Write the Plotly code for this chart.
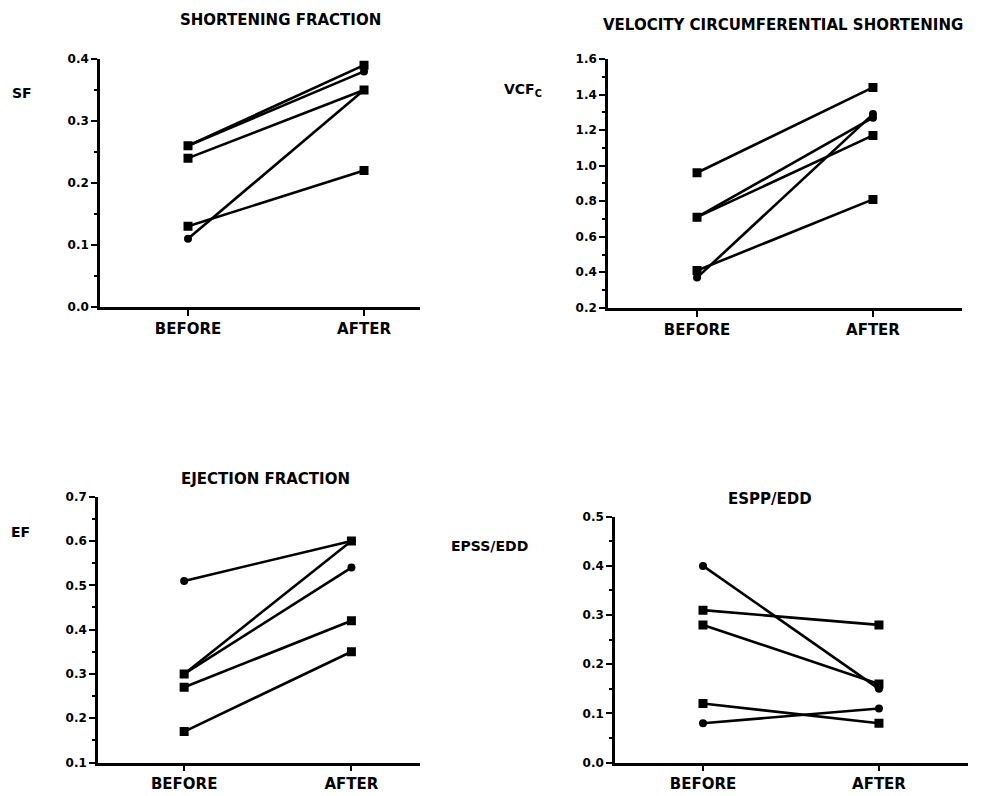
import plotly.graph_objects as go

W, H = 986, 796

# ---- data ----
categories = ["BEFORE", "AFTER"]
x_pos = [0, 1]

sf_square = [[0.26, 0.39], [0.24, 0.35], [0.13, 0.22]]
sf_circle = [[0.26, 0.38], [0.11, 0.35]]

vcf_square = [[0.96, 1.44], [0.71, 1.17], [0.41, 0.81]]
vcf_circle = [[0.71, 1.27], [0.37, 1.29]]

ef_square = [[0.30, 0.60], [0.27, 0.42], [0.17, 0.35]]
ef_circle = [[0.51, 0.60], [0.30, 0.54]]

epss_square = [[0.31, 0.28], [0.28, 0.16], [0.12, 0.08]]
epss_circle = [[0.40, 0.15], [0.08, 0.11]]

titles = ["SHORTENING FRACTION", "VELOCITY CIRCUMFERENTIAL SHORTENING",
          "EJECTION FRACTION", "ESPP/EDD"]
ylabels = ["SF", "VCF<sub>C</sub>", "EF", "EPSS/EDD"]


def Y(y):
    # compensate the vertical offset/scale observed in the rendered page
    return y / 0.983 - 7.1


# ---- layout geometry (pixels) ----
panels = [
    dict(px=(100, 420), py=(59, 307), xr=[-0.5, 1.318], yr=[0.0, 0.4], dt=0.1, mt=0.05,
         data=(sf_square, sf_circle)),
    dict(px=(608, 962), py=(59, 308), xr=[-0.506, 1.506], yr=[0.2, 1.6], dt=0.2, mt=0.1,
         data=(vcf_square, vcf_circle)),
    dict(px=(98, 420), py=(497, 763), xr=[-0.515, 1.41], yr=[0.1, 0.7], dt=0.1, mt=0.05,
         data=(ef_square, ef_circle)),
    dict(px=(615, 968), py=(517, 763), xr=[-0.5, 1.506], yr=[0.0, 0.5], dt=0.1, mt=0.05,
         data=(epss_square, epss_circle)),
]

FONT = "DejaVu Sans"
fig = go.Figure()
layout = {}
for i, p in enumerate(panels):
    n = "" if i == 0 else str(i + 1)
    xa, ya = "x" + n, "y" + n
    for sym, series in zip(["square", "circle"], p["data"]):
        for s in series:
            fig.add_trace(go.Scatter(
                x=x_pos, y=s, xaxis=xa, yaxis=ya, mode="lines+markers",
                line=dict(color="black", width=2.6),
                marker=dict(symbol=sym, size=9 if sym == "square" else 8, color="black"),
                showlegend=False, hoverinfo="skip"))
    xd = [p["px"][0] / W, p["px"][1] / W]
    yd = [1 - Y(p["py"][1]) / H, 1 - Y(p["py"][0]) / H]
    layout["xaxis" + n] = dict(
        domain=xd, range=p["xr"], anchor=ya, tickvals=x_pos, ticktext=categories,
        showline=True, linecolor="black", linewidth=2.5, ticks="outside", ticklen=6,
        tickwidth=2, tickcolor="black", showgrid=False, zeroline=False,
        tickfont=dict(family=FONT, size=15, color="black", weight="bold"))
    layout["yaxis" + n] = dict(
        domain=yd, range=p["yr"], anchor=xa, dtick=p["dt"], tick0=0, tickformat=".1f",
        showline=True, linecolor="black", linewidth=2.5, ticks="outside", ticklen=6,
        tickwidth=2, tickcolor="black", showgrid=False, zeroline=False,
        minor=dict(dtick=p["mt"], ticks="outside", ticklen=3, tickwidth=1.5, tickcolor="black"),
        tickfont=dict(family=FONT, size=12, color="black", weight="bold"))

ann = []
title_pos = [(280, 20), (783, 25), (265, 479), (770, 499)]
ylab_pos = [(22, 93), (523, 90), (20, 532), (489, 546)]
for t, (x, y) in zip(titles, title_pos):
    ann.append(dict(text=t, x=x / W, y=1 - Y(y) / H, xref="paper", yref="paper",
                    showarrow=False, xanchor="center", yanchor="middle",
                    font=dict(family=FONT, size=15, color="black", weight="bold")))
for t, (x, y) in zip(ylabels, ylab_pos):
    ann.append(dict(text=t, x=x / W, y=1 - Y(y) / H, xref="paper", yref="paper",
                    showarrow=False, xanchor="center", yanchor="middle",
                    font=dict(family=FONT, size=14, color="black", weight="bold")))

fig.update_layout(width=W, height=H, margin=dict(l=0, r=0, t=0, b=0),
                  paper_bgcolor="white", plot_bgcolor="white",
                  annotations=ann, **layout)
fig.write_html("out.html", config={"displayModeBar": False},
               post_script="document.body.style.margin='0px';document.body.style.overflow='hidden';")
